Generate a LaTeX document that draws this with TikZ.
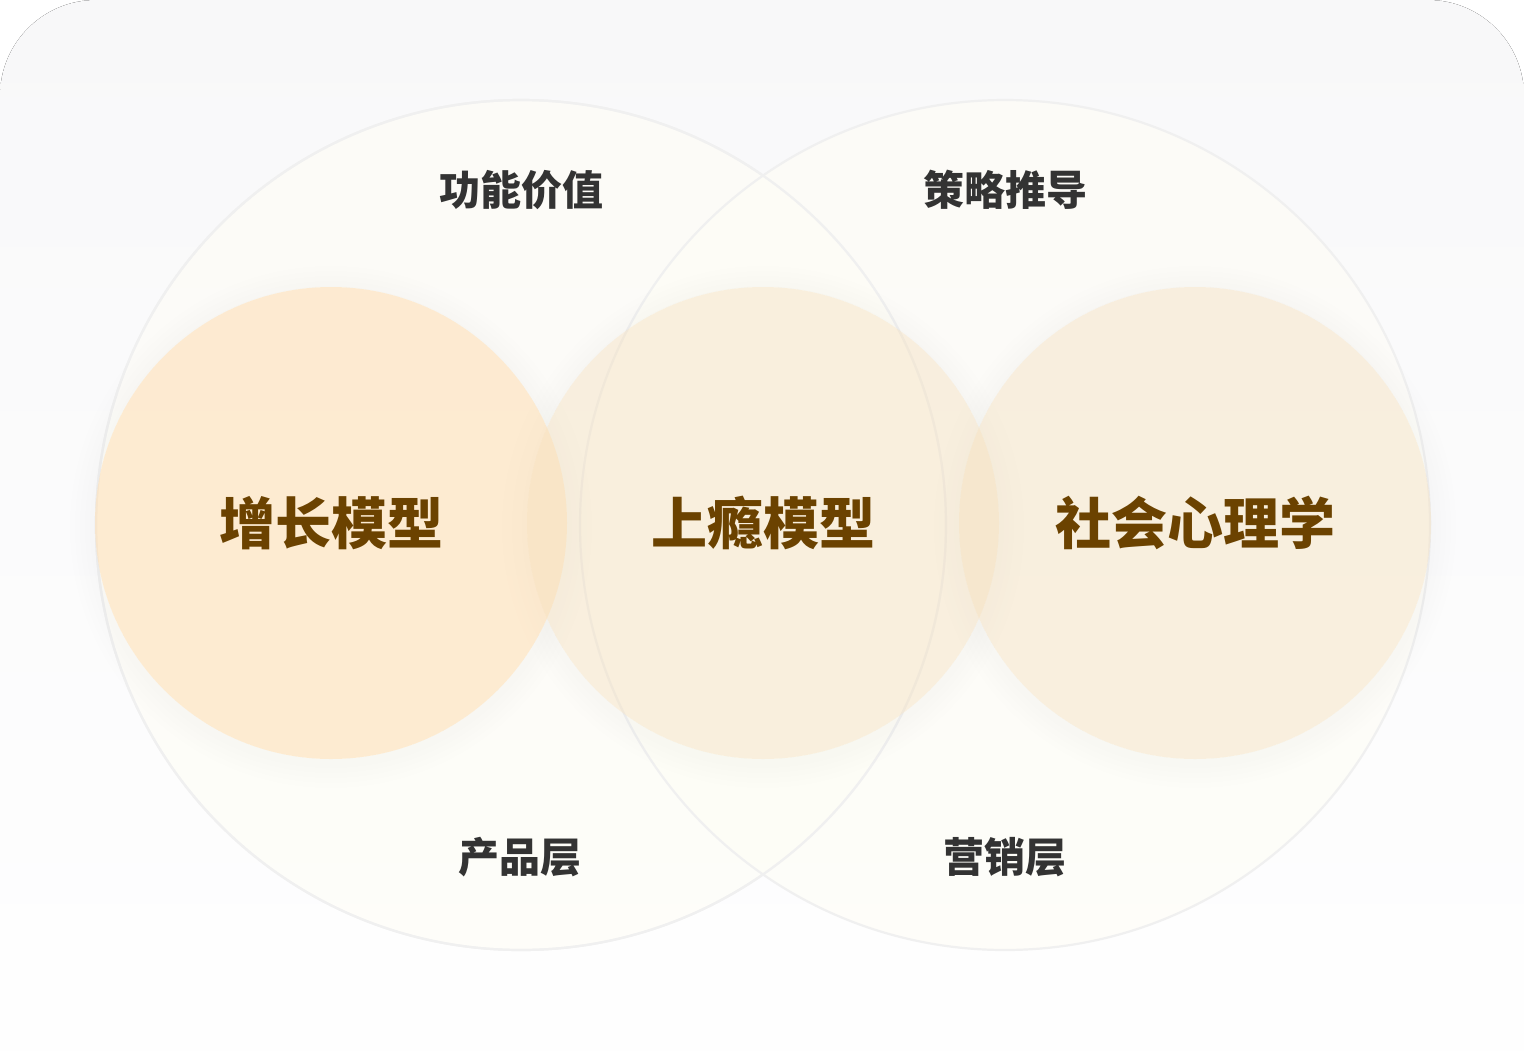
\documentclass[tikz,border=0pt]{standalone}
\usepackage{fontspec}
\setmainfont{Noto Sans CJK SC}
\definecolor{bgtop}{HTML}{F8F8F9}
\definecolor{ringgray}{HTML}{F0F0F0}
\definecolor{bigfill}{HTML}{FEFDF6}
\definecolor{peach}{HTML}{FEDBAB}
\definecolor{sand}{HTML}{F3DCB8}
\definecolor{modelbrown}{HTML}{6B4200}
\definecolor{labelgray}{HTML}{333333}
\begin{document}
\begin{tikzpicture}[x=1pt,y=-1pt,
  big/.style={draw=ringgray, line width=2.2pt, fill=bigfill, fill opacity=0.6},
  model/.style={font=\bfseries\fontsize{56}{60}\selectfont, text=modelbrown},
  layer/.style={font=\bfseries\fontsize{41}{46}\selectfont, text=labelgray}]

\useasboundingbox (0,0) rectangle (1524,1050);
\fill[top color=bgtop, bottom color=white, rounded corners=96] (0,0) rectangle (1524,1150);

\coordinate (product) at (521,525);
\coordinate (market) at (1005,525);
\coordinate (growth) at (331,523);
\coordinate (hook) at (763,523);
\coordinate (social) at (1195,523);

\fill[big] (product) circle (425);
\fill[big] (market) circle (425);
\draw[ringgray, line width=2.2pt] (product) circle (425);

% soft glow round the three models
\foreach \c in {growth,hook,social}
{
    \foreach \r in {5,10,...,25}
        \fill[black, opacity=0.0025, even odd rule] ([yshift=-4pt]\c) circle (236+\r) (\c) circle (236);
}

\fill[peach, fill opacity=0.5] (growth) circle (236);
\fill[sand, fill opacity=0.4] (hook) circle (236);
\fill[sand, fill opacity=0.4] (social) circle (236);

\node[model] (growthlabel) at (growth) {增长模型};
\node[model] (hooklabel) at (hook) {上瘾模型};
\node[model] (sociallabel) at (social) {社会心理学};

\node[layer] (value) at (521,190) {功能价值};
\node[layer] (strategy) at (1005,190) {策略推导};
\node[layer] (productlabel) at (520,857) {产品层};
\node[layer] (marketlabel) at (1005,857) {营销层};
\end{tikzpicture}
\end{document}
